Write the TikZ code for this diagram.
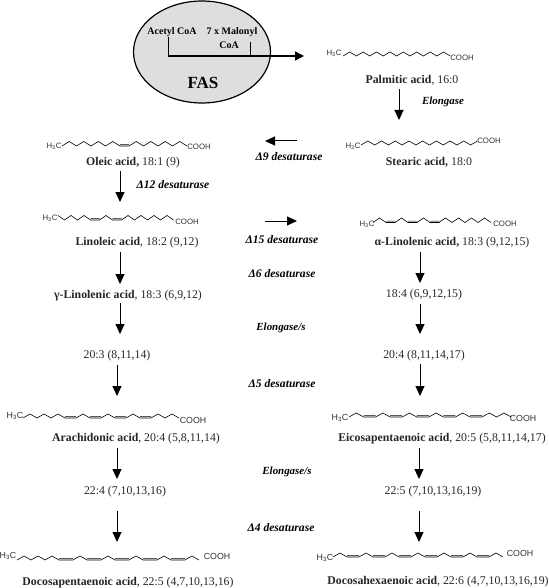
\documentclass[tikz,border=0pt]{standalone}
\usepackage{fontspec}
\setmainfont{Liberation Serif}
\newfontfamily\chemfont{Liberation Sans}
\usetikzlibrary{arrows.meta,shapes.geometric}
\newcommand{\dxv}{7}
\newcommand{\dyv}{4.5}
\newcommand{\flv}{10}
\newcommand{\Up}{-- ++(\dxv,-\dyv)}
\newcommand{\Dn}{-- ++(\dxv,\dyv)}
\newcommand{\Fl}{-- ++(\flv,0) ++(0,-1.4) -- ++(-\flv,0) ++(\flv,1.4)}
\newcommand{\UD}{\Up\Dn}
\newcommand{\DF}{\UD\Fl}
\newcommand{\cfg}[3]{\renewcommand{\dxv}{#1}\renewcommand{\dyv}{#2}\renewcommand{\flv}{#3}}
\newcommand{\HCsub}{H\textsubscript{3}C}
\tikzset{
  x=1pt,y=-1pt,
  chain/.style={draw=black,line width=0.6pt,line join=miter},
  flow/.style={draw=black,line width=1pt,-{Triangle[length=10pt,width=9pt]}},
  feed/.style={draw=black,line width=1.5pt},
  acid/.style={font=\fontsize{11.8}{13}\selectfont,inner sep=0pt,text=black!85},
  enz/.style={font=\fontsize{11.6}{13}\selectfont\bfseries\itshape,inner sep=0pt},
  elo/.style={font=\fontsize{10.9}{13}\selectfont\bfseries\itshape,inner sep=0pt},
  chem/.style={font=\chemfont\fontsize{7.8}{9}\selectfont,inner sep=0pt,text=black!80},
  chemb/.style={font=\chemfont\fontsize{8.8}{10}\selectfont,inner sep=0pt,text=black!80},
  cell/.style={font=\fontsize{10}{12}\selectfont\bfseries,inner sep=0pt},
}
\newcommand{\vflow}[4]{\coordinate (#1a) at (#2,#3); \coordinate (#1b) at (#2,#4); \draw[flow] (#1a) -- (#1b);}
\begin{document}
\begin{tikzpicture}
\useasboundingbox[fill=white] (0,0) rectangle (548,588);
% FAS
\node[draw=black,line width=1.2pt,fill=black!13,ellipse,minimum width=137pt,minimum height=102pt,inner sep=0pt] (fas) at (202,52) {};
\node[cell] (acetyl) at (172,32) {Acetyl CoA};
\node[cell] (malonyl) at (232,32) {7 x Malonyl};
\node[cell] (coa) at (229,45) {CoA};
\node[font=\fontsize{17}{19}\selectfont\bfseries,inner sep=0pt] (fasl) at (203,83) {FAS};
\coordinate (ja) at (168,37);
\coordinate (jb) at (168,56);
\coordinate (jc) at (250,42);
\coordinate (jd) at (250,56);
\coordinate (je) at (304,56);
\draw[feed,line width=1pt] (ja) -- (jb);
\draw[feed,line width=1pt] (jc) -- (jd);
\draw[feed,-{Triangle[length=9pt,width=9pt]}] (jb) -- (je);
% Palmitic
\node[chem] (hp) at (334,53) {\HCsub};
\node[chem] (cp) at (462,57.5) {COOH};
\cfg{6.7}{4}{6}
\draw[chain] (343,56) \UD\UD\UD\UD\UD\UD\UD\UD;
\node[acid] (palm) at (412,80) {\textbf{Palmitic acid}, 16:0};
\vflow{a1}{399}{89}{120}
\node[elo] (elon) at (443,102) {Elongase};
% Stearic
\node[chem] (hs) at (353,146) {\HCsub};
\node[chem] (cs) at (489,141) {COOH};
\cfg{6.85}{4}{6}
\draw[chain] (361,145) \UD\UD\UD\UD\UD\UD\UD\UD\Up;
\node[acid] (ste) at (429,162) {\textbf{Stearic acid,} 18:0};
% d9
\coordinate (d9a) at (297,141);
\coordinate (d9b) at (265,141);
\draw[flow] (d9a) -- (d9b);
\node[enz] (d9) at (289,157) {Δ9 desaturase};
% Oleic
\node[chem] (ho) at (54,146) {\HCsub};
\node[chem] (co) at (199,147) {COOH};
\cfg{7.25}{4.5}{9}
\draw[chain] (62,146) \UD\UD\UD\UD\Fl\UD\UD\UD\UD;
\node[acid] (ole) at (133,163) {\textbf{Oleic acid,} 18:1 (9)};
\vflow{a2}{120}{171}{202}
\node[enz] (d12) at (173,185) {Δ12 desaturase};
% Linoleic
\node[chem] (hl) at (50,218) {\HCsub};
\node[chem] (cl) at (187,222) {COOH};
\cfg{6.5}{4.5}{9}
\draw[chain] (58,215.5) \Dn\UD\UD\Fl\UD\Fl\UD\UD\UD\UD;
\node[acid] (lin) at (137,243) {\textbf{Linoleic acid}, 18:2 (9,12)};
\vflow{a3}{120}{252}{284}
% d15
\coordinate (d15a) at (265,221);
\coordinate (d15b) at (297,221);
\draw[flow] (d15a) -- (d15b);
\node[enz] (d15) at (282,240) {Δ15 desaturase};
% alpha
\node[chem] (ha) at (367,224) {\HCsub};
\node[chem] (ca) at (505,224) {COOH};
\cfg{6.5}{4.5}{9}
\draw[chain] (373,222.5) \DF\DF\DF\UD\UD\UD\UD;
\node[acid] (ala) at (452,243) {\textbf{α-Linolenic acid,} 18:3 (9,12,15)};
\vflow{a4}{420}{252}{283}
\node[enz] (d6) at (282,274) {Δ6 desaturase};
\node[acid] (gla) at (128,296) {\textbf{γ-Linolenic acid}, 18:3 (6,9,12)};
\node[acid] (s184) at (424,295) {18:4 (6,9,12,15)};
\vflow{a5}{120}{303}{334}
\vflow{a6}{420}{304}{334}
\node[elo] (el1) at (281,328) {Elongase/s};
\node[acid] (s203) at (117,356) {20:3 (8,11,14)};
\node[acid] (s204) at (424,356) {20:4 (8,11,14,17)};
\vflow{a7}{117}{365}{396}
\vflow{a8}{420}{364}{396}
\node[enz] (d5) at (282,384) {Δ5 desaturase};
% Arachidonic
\node[chemb] (har) at (15,416) {\HCsub};
\node[chemb] (car) at (193,420) {COOH};
\cfg{7}{4}{11}
\draw[chain] (23,418) \UD\UD\DF\DF\DF\DF\UD\UD;
\node[acid] (ara) at (136,439) {\textbf{Arachidonic acid}, 20:4 (5,8,11,14)};
% EPA
\node[chemb] (he) at (340,418) {\HCsub};
\node[chemb] (ce) at (523,418) {COOH};
\cfg{7.3}{4}{12}
\draw[chain] (349,417) \DF\DF\DF\DF\DF\UD\UD;
\node[acid] (epa) at (442,439) {\textbf{Eicosapentaenoic acid}, 20:5 (5,8,11,14,17)};
\vflow{a9}{117}{448}{479}
\vflow{a10}{419}{448}{479}
\node[elo] (el2) at (287,472) {Elongase/s};
\node[acid] (s224) at (125,492) {22:4 (7,10,13,16)};
\node[acid] (s225) at (433,492) {22:5 (7,10,13,16,19)};
\vflow{a11}{117}{511}{542}
\vflow{a12}{419}{511}{542}
\node[enz] (d4) at (281,528) {Δ4 desaturase};
% DPA
\node[chemb] (hd) at (8,556) {\HCsub};
\node[chemb] (cd) at (217,556) {COOH};
\cfg{7}{4}{14}
\draw[chain] (17,560) \UD\UD\DF\DF\DF\DF\DF\UD;
\node[acid] (dpa) at (128,583) {\textbf{Docosapentaenoic acid}, 22:5 (4,7,10,13,16)};
% DHA
\node[chemb] (hh) at (325,558) {\HCsub};
\node[chemb] (ch) at (520,553) {COOH};
\cfg{7}{4}{12}
\draw[chain] (333,557) \DF\DF\DF\DF\DF\DF\UD;
\node[acid] (dha) at (438,582) {\textbf{Docosahexaenoic acid}, 22:6 (4,7,10,13,16,19)};
\end{tikzpicture}
\end{document}
